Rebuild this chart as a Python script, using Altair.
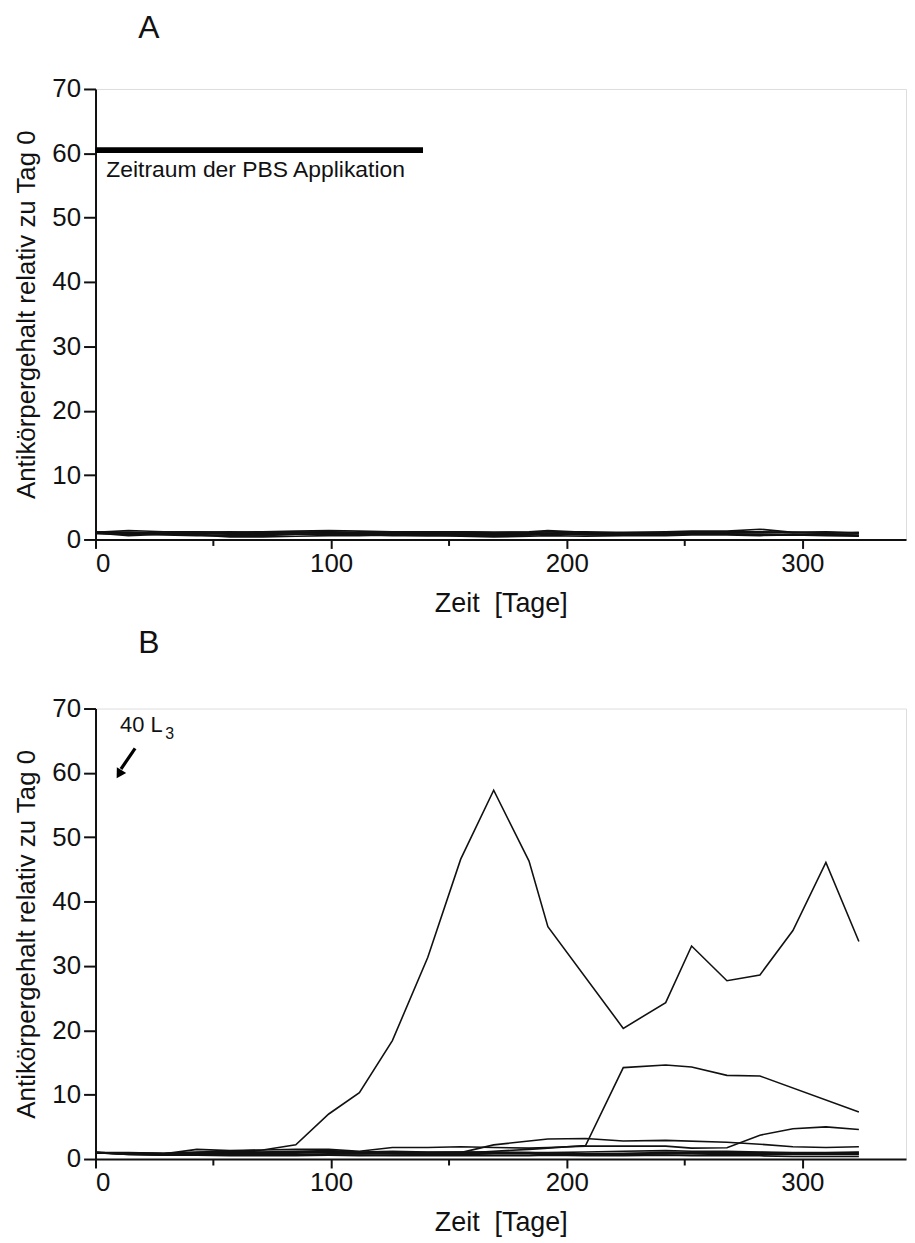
import altair as alt
import pandas as pd

# ---------------- data ----------------
DAYS = [0, 14, 29, 43, 57, 71, 85, 99, 112, 126, 141, 155, 169, 184, 192,
        208, 224, 242, 253, 268, 282, 296, 310, 324]

# Panel A (PBS) – all animals stay close to 1
A_SERIES = {
    "A1": [1.1, 1.4, 1.2, 1.2, 1.1, 1.2, 1.3, 1.4, 1.3, 1.2, 1.2, 1.2, 1.1, 1.2, 1.4, 1.1, 1.1, 1.2, 1.3, 1.3, 1.6, 1.1, 1.2, 1.0],
    "A2": [1.0, 0.6, 0.8, 0.8, 0.5, 0.6, 0.8, 0.9, 0.8, 0.7, 0.8, 0.8, 0.6, 0.7, 0.9, 0.7, 0.7, 0.8, 0.9, 0.9, 0.8, 0.7, 0.9, 0.6],
    "A3": [1.0, 1.0, 0.8, 1.0, 0.9, 0.9, 1.1, 1.2, 1.0, 1.0, 1.0, 1.0, 0.9, 1.0, 1.2, 0.9, 0.9, 1.0, 1.1, 1.1, 1.1, 1.0, 1.1, 1.0],
    "A4": [0.9, 0.8, 0.9, 0.7, 0.4, 0.4, 0.5, 0.6, 0.6, 0.7, 0.6, 0.5, 0.4, 0.5, 0.6, 0.5, 0.6, 0.6, 0.7, 0.7, 0.6, 0.7, 0.6, 0.5],
    "A5": [1.0, 1.1, 1.0, 1.1, 1.0, 1.0, 1.0, 1.1, 1.1, 1.0, 0.9, 1.0, 1.0, 0.9, 1.0, 1.0, 1.0, 1.0, 1.0, 1.2, 1.2, 1.1, 1.0, 1.0],
    "A6": [1.0, 0.8, 0.9, 0.9, 0.8, 0.8, 0.8, 0.9, 0.9, 0.8, 0.8, 0.8, 0.8, 0.8, 0.9, 0.8, 0.7, 0.8, 0.8, 0.8, 0.7, 0.7, 0.8, 0.6],
    "A7": [1.2, 1.1, 1.0, 1.1, 1.2, 1.1, 1.1, 1.2, 1.0, 1.0, 1.1, 1.2, 1.1, 1.1, 1.2, 1.2, 1.0, 1.0, 1.1, 1.1, 1.1, 1.1, 1.0, 1.1],
    "A8": [1.0, 0.9, 0.7, 0.6, 0.6, 0.7, 0.8, 0.8, 0.7, 0.6, 0.6, 0.7, 0.6, 0.7, 0.8, 0.8, 0.7, 0.8, 0.8, 0.8, 0.8, 0.7, 0.7, 0.7],
}

# Panel B (40 L3) – None = no sample on that day for this animal
B_SERIES = {
    "B1": [1.0, 0.9, 0.9, 1.1, 1.2, 1.4, 2.2, 7.0, 10.3, 18.4, 31.3, 46.6, 57.3, 46.3, 36.1, None, 20.3, 24.3, 33.1, 27.7, 28.6, 35.5, 46.1, 33.8],
    "B2": [1.0, 0.9, 0.8, 0.9, 1.0, 1.0, 1.1, 1.2, 1.0, 0.9, 0.9, 0.9, 1.2, 1.5, 1.7, 2.1, 14.2, 14.6, 14.3, 13.0, 12.9, None, None, 7.3],
    "B3": [1.0, 0.8, 0.8, 0.9, 0.9, 1.0, 1.0, 1.0, 1.0, 1.0, 1.0, 1.0, 2.2, 2.8, 3.1, 3.2, 2.8, 2.9, None, 2.6, 2.3, 1.9, 1.8, 1.9],
    "B4": [1.0, 0.9, 0.8, 1.5, 1.3, 1.4, 1.5, 1.5, 1.2, 1.8, 1.8, 1.9, 1.8, 1.7, 1.8, 2.0, 2.0, 2.0, 1.7, 1.75, 3.7, 4.7, 5.0, 4.6],
    "B5": [1.0, 0.7, 0.6, 0.6, 0.5, 0.5, 0.5, 0.6, 0.6, 0.5, 0.5, 0.5, 0.5, 0.5, 0.6, 0.5, 0.5, 0.6, 0.5, 0.5, 0.5, 0.4, 0.4, 0.4],
    "B6": [1.0, 0.9, 0.8, 0.9, 0.9, 1.0, 1.1, 1.1, 1.0, 1.0, 1.0, 1.1, 1.1, 1.0, 0.9, 0.8, 0.9, 1.0, 1.0, 1.0, 1.0, 0.9, 0.9, 1.0],
    "B7": [1.0, 0.7, 0.6, 0.7, 0.8, 0.8, 0.8, 0.6, 0.5, 0.6, 0.7, 0.7, 0.8, 0.8, 0.7, 0.7, 0.7, 0.8, 0.8, 0.7, 0.7, 0.7, 0.7, 0.7],
    "B8": [1.0, 1.0, 0.9, 1.0, 1.2, 1.1, 1.2, 1.3, 1.1, 1.2, 1.1, 1.1, 1.0, 1.0, 1.0, 1.1, 1.2, 1.3, 1.2, 1.2, 1.1, 1.0, 1.0, 1.1],
    "B9": [1.0, 0.8, 0.8, 0.8, 0.7, 0.7, 0.7, 0.8, 0.8, 0.8, 0.8, 0.8, 0.9, 0.9, 0.8, 0.8, 0.8, 0.9, 0.9, 0.9, 0.8, 0.8, 0.9, 0.8],
}

X_TICKS = [0, 50, 100, 150, 200, 250, 300]
Y_TICKS = [0, 5, 10, 15, 20, 25, 30, 35, 40, 45, 50, 55, 60, 65, 70]

PBS_BAR = {"x": [0], "x2": [139], "y": [60.5]}
PBS_TEXT = {"x": [4.6], "y": [56.4], "t": ["Zeitraum der PBS Applikation"]}
L3_TEXT = {"x": [10.4], "y": [66.3], "t": ["40 L"]}
L3_SUB = {"x": [29.6], "y": [65.3], "t": ["3"]}
ARROW = {"x": [16.8], "y": [63.8], "x2": [10.8], "y2": [60.6]}
ARROW_TIP = {"x": [10.0], "y": [59.8]}

# ---------------- helpers ----------------
FONT = "Liberation Sans"
INK = "#111111"


def to_long(series):
    rows = []
    for name, vals in series.items():
        for d, v in zip(DAYS, vals):
            if v is not None:
                rows.append({"tier": name, "tag": d, "wert": v})
    return pd.DataFrame(rows)


xscale = alt.Scale(domain=[0, 344], nice=False, zero=False)
yscale = alt.Scale(domain=[0, 70], nice=False)

x_axis = alt.Axis(
    values=X_TICKS,
    labelExpr="datum.value % 100 === 0 ? datum.label : ''",
    tickSize={"condition": {"test": "datum.value % 100 === 0", "value": 9}, "value": 6},
    title="Zeit\u00a0 [Tage]",
    grid=False,
    labelFontSize=26, titleFontSize=27, labelFont=FONT, titleFont=FONT,
    titleFontWeight="normal", labelColor=INK, titleColor=INK,
    domainColor=INK, tickColor=INK, domainWidth=2, tickWidth=2,
    labelPadding=2, titlePadding=14,
)
y_axis = alt.Axis(
    values=Y_TICKS,
    labelExpr="datum.value % 10 === 0 ? datum.label : ''",
    tickSize={"condition": {"test": "datum.value % 10 === 0", "value": 12}, "value": 6},
    title="Antikörpergehalt relativ zu Tag 0",
    grid=False,
    labelFontSize=26, titleFontSize=26, labelFont=FONT, titleFont=FONT,
    titleFontWeight="normal", labelColor=INK, titleColor=INK,
    domainColor=INK, tickColor=INK, domainWidth=2, tickWidth=2,
    labelPadding=3, titlePadding=12,
)

W, H = 815, 453


def panel(series, letter, extras, offset):
    lines = alt.Chart(to_long(series)).mark_line(color=INK, strokeWidth=1.6).encode(
        x=alt.X("tag:Q", scale=xscale, axis=x_axis),
        y=alt.Y("wert:Q", scale=yscale, axis=y_axis),
        detail="tier:N",
        order="tag:Q",
    )
    return alt.layer(lines, *extras).properties(
        width=W, height=H,
        title=alt.TitleParams(letter, anchor="start", dx=125, fontSize=32, font=FONT,
                              fontWeight="normal", color=INK, offset=offset),
    )


bar = alt.Chart(pd.DataFrame(PBS_BAR)).mark_rule(color="black", strokeWidth=6).encode(
    x=alt.X("x:Q", scale=xscale), x2="x2:Q", y=alt.Y("y:Q", scale=yscale))
bar_txt = alt.Chart(pd.DataFrame(PBS_TEXT)).mark_text(
    align="left", baseline="alphabetic", fontSize=23, font=FONT, color=INK).encode(
    x=alt.X("x:Q", scale=xscale), y=alt.Y("y:Q", scale=yscale), text="t:N")

l3 = alt.Chart(pd.DataFrame(L3_TEXT)).mark_text(
    align="left", baseline="alphabetic", fontSize=22, font=FONT, color=INK).encode(
    x=alt.X("x:Q", scale=xscale), y=alt.Y("y:Q", scale=yscale), text="t:N")
l3s = alt.Chart(pd.DataFrame(L3_SUB)).mark_text(
    align="left", baseline="alphabetic", fontSize=16, font=FONT, color=INK).encode(
    x=alt.X("x:Q", scale=xscale), y=alt.Y("y:Q", scale=yscale), text="t:N")
arrow = alt.Chart(pd.DataFrame(ARROW)).mark_rule(color="black", strokeWidth=3.2).encode(
    x=alt.X("x:Q", scale=xscale), x2="x2:Q",
    y=alt.Y("y:Q", scale=yscale), y2="y2:Q")
tip = alt.Chart(pd.DataFrame(ARROW_TIP)).mark_point(
    shape="triangle-up", filled=True, color="black", size=120, angle=211, opacity=1).encode(
    x=alt.X("x:Q", scale=xscale), y=alt.Y("y:Q", scale=yscale))

pA = panel(A_SERIES, "A", [bar, bar_txt], 31)
pB = panel(B_SERIES, "B", [arrow, tip, l3, l3s], 36)

chart = alt.vconcat(pA, pB, spacing=9).properties(
    padding={"left": 5, "top": 0, "right": 0, "bottom": 0}
).configure_view(strokeWidth=0).configure(background="white")

chart.save("out.html", embed_options={"renderer": "svg", "actions": False})
